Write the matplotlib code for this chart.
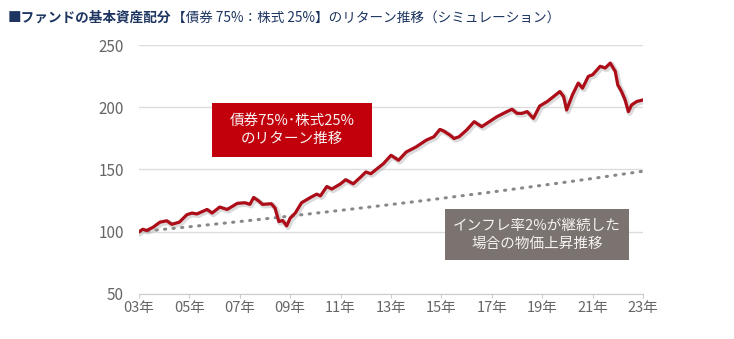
import matplotlib.pyplot as plt
import matplotlib.patheffects as pe
from matplotlib.patches import Rectangle

plt.rcParams['font.family'] = ['Noto Sans CJK JP', 'DejaVu Sans']

# fund return index (bonds 75% / stocks 25%), start = 100
years = [2003.00, 2003.15, 2003.30, 2003.55, 2003.83, 2004.10, 2004.30, 2004.60,
         2004.90, 2005.10, 2005.30, 2005.70, 2005.90, 2006.20, 2006.50, 2006.90,
         2007.20, 2007.40, 2007.55, 2007.75, 2007.90, 2008.25, 2008.40, 2008.55,
         2008.70, 2008.86, 2009.00, 2009.20, 2009.45, 2009.80, 2010.05, 2010.20,
         2010.45, 2010.65, 2011.00, 2011.20, 2011.50, 2011.80, 2012.00, 2012.20,
         2012.70, 2013.00, 2013.30, 2013.60, 2014.00, 2014.40, 2014.70, 2014.94,
         2015.10, 2015.34, 2015.50, 2015.70, 2016.00, 2016.30, 2016.60, 2016.90,
         2017.20, 2017.60, 2017.80, 2018.00, 2018.20, 2018.40, 2018.65, 2018.90,
         2019.20, 2019.45, 2019.70, 2019.85, 2019.97, 2020.20, 2020.43, 2020.60,
         2020.83, 2021.00, 2021.30, 2021.50, 2021.70, 2021.90, 2022.00, 2022.15,
         2022.29, 2022.42, 2022.55, 2022.75, 2023.00]
fund_values = [100.0, 102.0, 101.0, 103.5, 107.7, 108.8, 106.0, 107.7,
               113.7, 115.0, 114.3, 117.9, 115.0, 119.8, 117.9, 122.8,
               123.3, 122.0, 127.5, 124.7, 122.0, 122.5, 119.0, 108.2,
               109.0, 104.7, 111.0, 115.0, 123.3, 127.5, 130.2, 128.8,
               136.3, 134.3, 138.5, 141.8, 138.5, 144.0, 148.0, 146.6,
               154.7, 161.4, 157.4, 164.0, 168.2, 173.6, 176.3, 182.2,
               180.8, 177.6, 174.9, 176.3, 181.7, 188.4, 184.4, 188.4,
               192.4, 196.5, 198.4, 195.1, 195.1, 196.5, 191.1, 201.0,
               204.6, 208.6, 212.6, 208.6, 197.8, 210.0, 219.4, 215.3,
               224.8, 226.1, 232.9, 231.5, 235.5, 228.8, 218.0, 212.6,
               205.9, 196.5, 201.9, 204.6, 205.9]

# price level under 2% annual inflation
infl_years = list(range(2003, 2024))
infl_values = [100.0, 102.0, 104.0, 106.1, 108.2, 110.4, 112.6, 114.9, 117.2,
               119.5, 121.9, 124.3, 126.8, 129.4, 131.9, 134.6, 137.3, 140.0,
               142.8, 145.7, 148.6]

tick_years = list(range(2003, 2024, 2))
tick_labels = [f'{y % 100:02d}年' for y in tick_years]
y_ticks = [50, 100, 150, 200, 250]

W, H = 734, 339
fig = plt.figure(figsize=(W / 100, H / 100), dpi=100)
ax = fig.add_axes([139 / W, 45 / H, (643 - 139) / W, (294 - 45) / H])

ax.plot(infl_years, infl_values, color='#888888', lw=2.2,
        linestyle=(0, (0.4, 2.4)), dash_capstyle='round', zorder=2)
ax.plot(years, fund_values, color='#ad0d18', lw=2.3, zorder=3,
        solid_joinstyle='round',
        path_effects=[pe.SimpleLineShadow(offset=(1.0, -1.0), shadow_color='#999999', alpha=0.35, linewidth=4),
                      pe.Normal()])

ax.set_xlim(2003, 2023)
ax.set_ylim(50, 250)
ax.set_yticks(y_ticks)
ax.set_xticks(tick_years)
ax.set_xticklabels(tick_labels)
ax.grid(axis='y', color='#dcdcdc', lw=1)
ax.set_axisbelow(True)
for side in ['top', 'right', 'left']:
    ax.spines[side].set_visible(False)
ax.spines['bottom'].set_color('#cccccc')
ax.tick_params(axis='y', length=0, pad=11, labelsize=11, labelcolor='#666666')
ax.tick_params(axis='x', length=3, color='#cccccc', pad=2, labelsize=10.5, labelcolor='#666666')

# annotation boxes
def label_box(x0, y0, x1, y1, color, text):
    fig.add_artist(Rectangle((x0 / W, 1 - y1 / H), (x1 - x0) / W, (y1 - y0) / H,
                             transform=fig.transFigure, facecolor=color, edgecolor='none'))
    fig.text((x0 + x1) / 2 / W, 1 - (y0 + y1) / 2 / H, text, color='#f7f2f2',
             ha='center', va='center', fontsize=10.5, linespacing=1.35)

label_box(212, 103, 372, 157, '#c2000c', '債券75%･株式25%\nのリターン推移')
label_box(445, 209, 629, 260, '#7a7370', 'インフレ率2%が継続した\n場合の物価上昇推移')

# title, bold head followed by regular tail
t1 = fig.text(8 / W, 1 - 18 / H, '■ファンドの基本資産配分', color='#1d3560',
              fontsize=9.8, fontweight='bold', va='center')
r = fig.canvas.get_renderer()
bb = t1.get_window_extent(renderer=r)
fig.text(bb.x1 / W, 1 - 18 / H, '【債券 75%：株式 25%】のリターン推移（シミュレーション）',
         color='#1d3560', fontsize=9.8, va='center')

fig.savefig('out.png', dpi=100)
